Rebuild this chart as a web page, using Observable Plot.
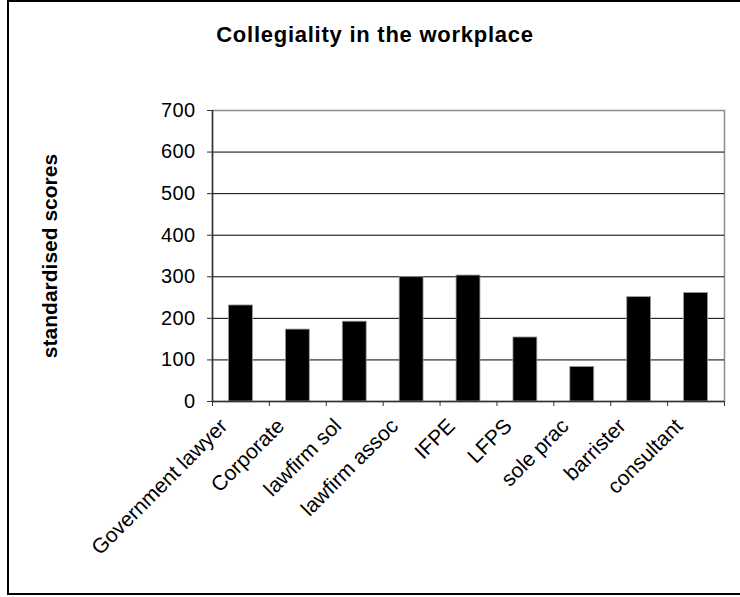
<!DOCTYPE html>
<html>
<head>
<meta charset="utf-8">
<script src="https://cdn.jsdelivr.net/npm/d3@7"></script>
<script src="https://cdn.jsdelivr.net/npm/@observablehq/plot@0.6"></script>
<style>
  html, body { margin: 0; padding: 0; background: #fff; }
  #wrap { position: relative; width: 740px; height: 597px; overflow: hidden; font-family: "Liberation Sans", Arial, sans-serif; }
  #border { position: absolute; left: 7px; top: 0px; width: 760px; height: 591px; border: 2px solid #000; box-sizing: content-box; }
  #title { position: absolute; left: 0; width: 750px; top: 22px; text-align: center; font-weight: bold; font-size: 22px; color: #000; letter-spacing: 0.75px; }
  #chart { position: absolute; left: 0; top: 0; }
  #chart g[aria-label="y label"] { letter-spacing: 0.6px; }
  #chart g[aria-label="y-axis tick label"] { letter-spacing: 0.4px; }
  #chart g[aria-label="category labels"] { letter-spacing: 0.2px; }
</style>
</head>
<body>
<div id="wrap">
  <div id="border"></div>
  <div id="title">Collegiality in the workplace</div>
  <div id="chart"></div>
</div>
<script>
// Practice areas and their standardised collegiality scores
const categories = ["Government lawyer", "Corporate", "lawfirm sol", "lawfirm assoc", "IFPE", "LFPS", "sole prac", "barrister", "consultant"];
const scores = [231, 173, 192, 299, 303, 154, 83, 251, 261];
const yTicks = [0, 100, 200, 300, 400, 500, 600, 700];
const yLabel = "standardised scores";

const data = categories.map((category, i) => ({category, score: scores[i], i}));

const chart = Plot.plot({
  width: 740,
  height: 597,
  marginLeft: 212,
  marginRight: 16,
  marginTop: 110,
  marginBottom: 196,
  style: {fontFamily: "Liberation Sans, Arial, sans-serif", fontSize: "20px", color: "#000", background: "transparent"},
  x: {domain: [0, categories.length], axis: null},
  y: {domain: [0, 700], axis: null},
  marks: [
    Plot.frame({stroke: "#8c8c8c", strokeWidth: 1.5}),
    Plot.gridY(yTicks.filter(t => t > 0 && t < 700), {stroke: "#000", strokeOpacity: 1, strokeWidth: 1}),
    Plot.rectY(data, {
      x1: d => d.i, x2: d => d.i + 1, y: "score",
      fill: "#000", stroke: "#9a9a9a", strokeWidth: 0.8,
      insetLeft: 16.5, insetRight: 16.5
    }),
    Plot.ruleY([0], {stroke: "#333", strokeWidth: 1.5}),
    Plot.ruleX([0], {stroke: "#333", strokeWidth: 1.5}),
    Plot.axisY({ticks: yTicks, tickSize: 5, tickPadding: 12, fontSize: 20, stroke: "#333", label: null}),
    Plot.axisX({ticks: d3.range(0, categories.length + 1), tickSize: 5, tickFormat: () => "", stroke: "#333", label: null}),
    // category names, rotated under the axis and ending at each bar's slot
    Plot.text(data, {
      x: d => d.i + 0.5, frameAnchor: "bottom", text: "category",
      rotate: -45, textAnchor: "end", lineAnchor: "middle",
      dy: 21, dx: -17, fontSize: 21, fill: "#000",
      ariaLabel: "category labels"
    }),
    Plot.text([yLabel], {
      frameAnchor: "left", text: d => d, rotate: -90, textAnchor: "middle",
      dx: -162, fontWeight: "bold", fontSize: 21, fill: "#000",
      ariaLabel: "y label"
    })
  ]
});
document.getElementById("chart").appendChild(chart);
</script>
</body>
</html>
